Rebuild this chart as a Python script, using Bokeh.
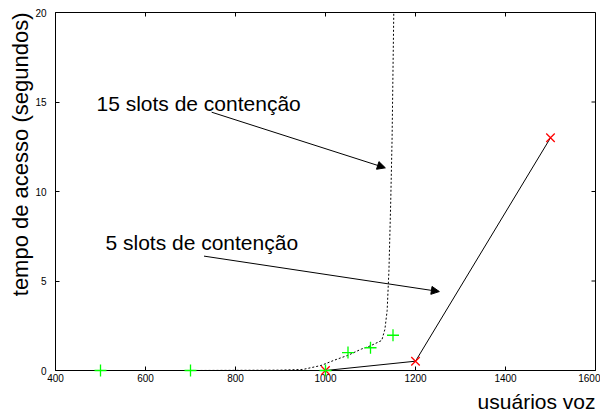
from bokeh.plotting import figure
from bokeh.models import Range1d, LinearAxis, Label, Arrow, NormalHead, FixedTicker, Title
from bokeh.embed import file_html
from bokeh.resources import INLINE

# data
slots15_pts_x = [500, 700, 1000, 1050, 1100, 1150]
slots15_pts_y = [0, 0, 0, 1.0, 1.27, 1.97]
slots15_curve_x = [500, 700, 900, 950, 990, 1020, 1050, 1080, 1100, 1125, 1132, 1137, 1141, 1145, 1148, 1150, 1152]
slots15_curve_y = [0, 0, 0.02, 0.06, 0.28, 0.58, 0.85, 1.2, 1.38, 1.68, 2.3, 3.35, 5.6, 9.5, 13.0, 16.8, 20.5]
slots5_x = [1000, 1200, 1500]
slots5_y = [0, 0.52, 13.0]
x_ticks = [400, 600, 800, 1000, 1200, 1400, 1600]
y_ticks = [0, 5, 10, 15, 20]

FONT = "Liberation Sans"
X0, X1, Y0, Y1 = 400, 1600, 0, 20
W, H = 600, 417
BL, BR, BT, BB = 55, 5, 12, 47
TICK = 4

p = figure(width=W, height=H, output_backend="svg", toolbar_location=None,
           x_range=Range1d(X0, X1), y_range=Range1d(Y0, Y1),
           min_border_left=BL, min_border_right=BR, min_border_top=BT, min_border_bottom=BB,
           x_axis_location=None, y_axis_location=None)
p.grid.visible = False
p.outline_line_color = "black"
p.outline_line_width = 1
p.background_fill_color = "white"
p.border_fill_color = "white"

def mk_axis(ticks, standoff):
    ax = LinearAxis(ticker=FixedTicker(ticks=ticks))
    ax.axis_line_color = "black"
    ax.major_tick_in = TICK
    ax.major_tick_out = 0
    ax.minor_tick_line_color = None
    ax.major_tick_line_color = "black"
    ax.major_label_text_font = FONT
    ax.major_label_text_color = "black"
    ax.major_label_text_font_size = "10px"
    ax.major_label_standoff = standoff
    return ax

p.add_layout(mk_axis(x_ticks, 3), "below")
p.add_layout(mk_axis(y_ticks, 9), "left")

# axis titles
p.add_layout(Title(text="usuários voz", align="right", text_font=FONT, text_font_size="21px",
                   text_font_style="normal", text_color="black", standoff=6, offset=0), "below")
p.add_layout(Title(text="tempo de acesso (segundos)", align="right", text_font=FONT,
                   text_font_size="22px", text_font_style="normal", text_color="black",
                   standoff=0, offset=0), "left")

# inward ticks on the top and right borders, from the tick lists
fw = W - BL - BR
fh = H - BT - BB
dx = TICK * (X1 - X0) / fw
dy = TICK * (Y1 - Y0) / fh
p.segment(x0=x_ticks, y0=[Y1] * len(x_ticks), x1=x_ticks, y1=[Y1 - dy] * len(x_ticks),
          line_color="black", line_width=1)
p.segment(x0=[X1] * len(y_ticks), y0=y_ticks, x1=[X1 - dx] * len(y_ticks), y1=y_ticks,
          line_color="black", line_width=1)

# curves
p.line(slots15_curve_x, slots15_curve_y, line_color="black", line_width=1, line_dash="2 2")
p.line(slots5_x, slots5_y, line_color="black", line_width=1)
p.scatter(slots5_x, slots5_y, marker="x", size=12, line_color="#ff0000", line_width=1.3, level="overlay")
p.scatter(slots15_pts_x, slots15_pts_y, marker="cross", size=12, line_color="#00ff00", line_width=1.3, level="overlay")

# annotations
p.add_layout(Label(x=491, y=14.89, text="15 slots de contenção", text_font=FONT,
                   text_font_size="21px", text_baseline="alphabetic", text_color="black"))
p.add_layout(Label(x=511, y=7.15, text="5 slots de contenção", text_font=FONT,
                   text_font_size="21px", text_baseline="alphabetic", text_color="black"))
p.add_layout(Arrow(x_start=747, y_start=14.43, x_end=1133, y_end=11.32,
                   line_color="black", line_width=1,
                   end=NormalHead(size=8, fill_color="black", line_color="black")))
p.add_layout(Arrow(x_start=730, y_start=6.39, x_end=1253, y_end=4.41,
                   line_color="black", line_width=1,
                   end=NormalHead(size=8, fill_color="black", line_color="black")))

open("out.html", "w").write(file_html(p, INLINE))
